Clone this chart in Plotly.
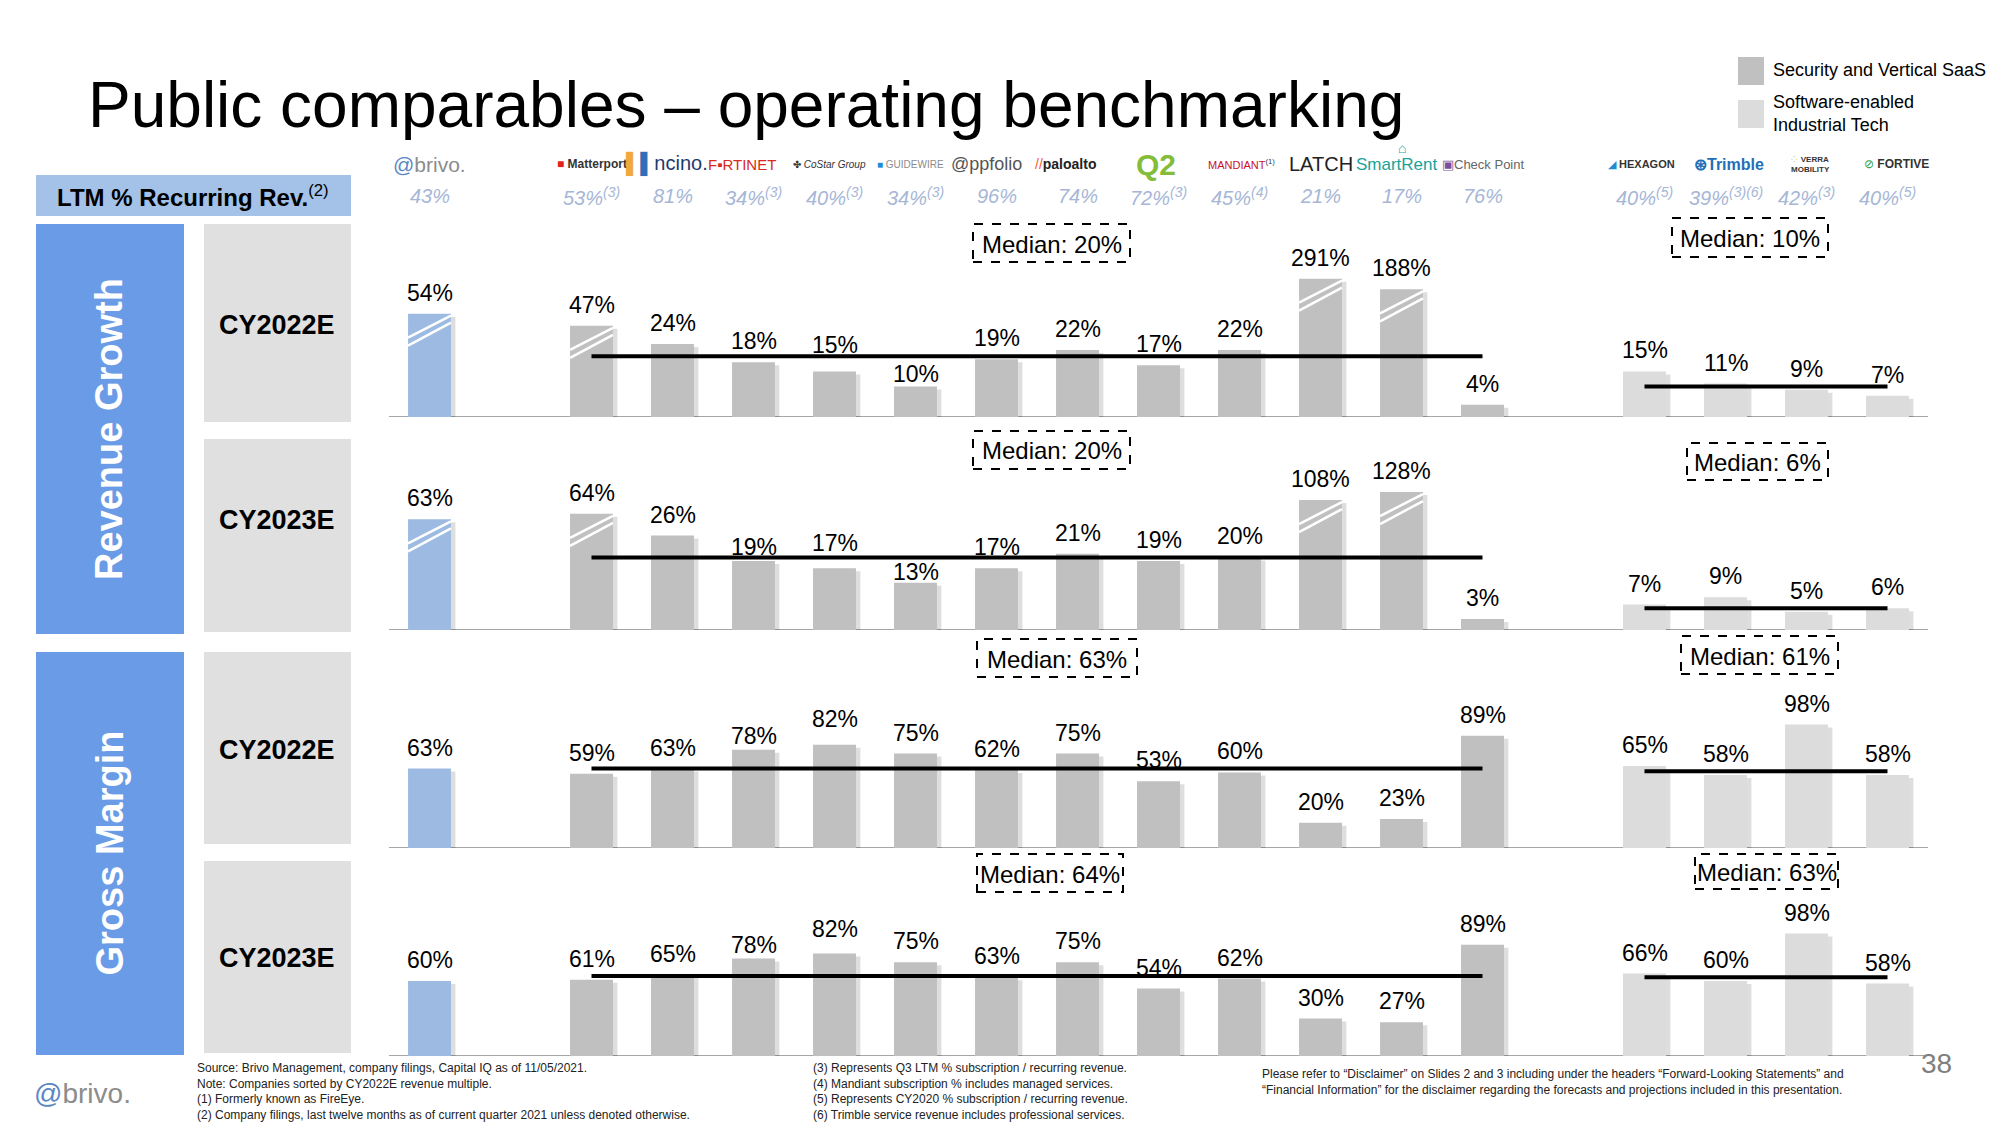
import plotly.graph_objects as go

W, H = 2000, 1125
FONT = "Liberation Sans, Arial, Helvetica, sans-serif"

# ---------------- data ----------------
brivo_name = "Brivo"
saas_names = ["Matterport", "nCino", "Fortinet", "CoStar Group", "Guidewire", "AppFolio",
              "Palo Alto Networks", "Q2", "Mandiant", "Latch", "SmartRent", "Check Point"]
ind_names = ["Hexagon", "Trimble", "Verra Mobility", "Fortive"]

ltm_brivo = 43
ltm_saas = [53, 81, 34, 40, 34, 96, 74, 72, 45, 21, 17, 76]
ltm_saas_note = ["(3)", "", "(3)", "(3)", "(3)", "", "", "(3)", "(4)", "", "", ""]
ltm_ind = [40, 39, 42, 40]
ltm_ind_note = ["(5)", "(3)(6)", "(3)", "(5)"]

rg22_brivo = 54
rg22_saas = [47, 24, 18, 15, 10, 19, 22, 17, 22, 291, 188, 4]
rg22_ind = [15, 11, 9, 7]

rg23_brivo = 63
rg23_saas = [64, 26, 19, 17, 13, 17, 21, 19, 20, 108, 128, 3]
rg23_ind = [7, 9, 5, 6]

gm22_brivo = 63
gm22_saas = [59, 63, 78, 82, 75, 62, 75, 53, 60, 20, 23, 89]
gm22_ind = [65, 58, 98, 58]

gm23_brivo = 60
gm23_saas = [61, 65, 78, 82, 75, 63, 75, 54, 62, 30, 27, 89]
gm23_ind = [66, 60, 98, 58]

median_saas = [20, 20, 63, 64]
median_ind = [10, 6, 61, 63]

# bars drawn with a broken (shortened) axis: height at which they are drawn
broken_rg22 = {"Brivo": 34, "Matterport": 30, "Latch": 45.5, "SmartRent": 42}
broken_rg23 = {"Brivo": 30.5, "Matterport": 32, "Latch": 35.8, "SmartRent": 38}

period_labels = ["CY2022E", "CY2023E", "CY2022E", "CY2023E"]
section_labels = ["Revenue Growth", "Gross Margin"]
legend_labels = ["Security and Vertical SaaS", "Software-enabled<br>Industrial Tech"]

# ---------------- geometry / style ----------------
def px(x):
    return x / W

def py(y):
    return 1 - y / H

C_BRIVO = "#9dbbe2"
C_SAAS = "#c0c0c0"
C_IND = "#dcdcdc"
C_BLUE = "#6a9be6"
C_LTMBOX = "#a4c2e8"
C_PANEL = "#e0e0e0"
C_LTMTXT = "#a6b6d6"

names = [brivo_name] + saas_names + ind_names
slots = [0] + [2 + i for i in range(len(saas_names))] + [3 + len(saas_names) + i for i in range(len(ind_names))]
colors = [C_BRIVO] + [C_SAAS] * len(saas_names) + [C_IND] * len(ind_names)
saas_slots = slots[1:1 + len(saas_names)]
ind_slots = slots[1 + len(saas_names):]

rows = [
    dict(vals=[rg22_brivo] + rg22_saas + rg22_ind, broken=broken_rg22, base=417, scale=3.04, top=222),
    dict(vals=[rg23_brivo] + rg23_saas + rg23_ind, broken=broken_rg23, base=630, scale=3.63, top=436),
    dict(vals=[gm22_brivo] + gm22_saas + gm22_ind, broken={}, base=848, scale=1.26, top=636),
    dict(vals=[gm23_brivo] + gm23_saas + gm23_ind, broken={}, base=1056, scale=1.25, top=850),
]
# label nudges (px) where the original slide moved a label
nudges = {(0, 6): -8, (0, 5): 5, (1, 4): -7, (1, 5): 4, (1, 6): -10,
          (2, 4): -7, (2, 5): 5, (3, 4): -7, (3, 5): 4}

BAR_W = 0.53
X0_PX, X1_PX = 389, 1928

fig = go.Figure()
shapes = []
annotations = []


def ptext(x, y, text, size, color="black", xanchor="center", yanchor="middle", **kw):
    d = dict(x=px(x), y=py(y), xref="paper", yref="paper", xanchor=xanchor, yanchor=yanchor,
             text=text, showarrow=False, font=dict(size=size, color=color, family=FONT))
    d.update(kw)
    annotations.append(d)


layout_axes = dict(
    xaxis=dict(domain=[px(X0_PX), px(X1_PX)], range=[-0.5, 18.5], visible=False, fixedrange=True)
)

for i, r in enumerate(rows):
    yid = "y" if i == 0 else f"y{i+1}"
    ykey = "yaxis" if i == 0 else f"yaxis{i+1}"
    rng_max = (r["base"] - r["top"]) / r["scale"]
    layout_axes[ykey] = dict(domain=[py(r["base"]), py(r["top"])], range=[0, rng_max],
                             visible=False, fixedrange=True)
    drawn = [r["broken"].get(n, v) for n, v in zip(names, r["vals"])]
    # soft shadow
    fig.add_trace(go.Bar(x=[s + 0.055 for s in slots], y=[d - 1.5 / r["scale"] for d in drawn],
                         base=[-1.5 / r["scale"]] * len(slots),
                         width=BAR_W, marker=dict(color="rgba(0,0,0,0.13)", line_width=0),
                         xaxis="x", yaxis=yid, hoverinfo="skip", showlegend=False))
    fig.add_trace(go.Bar(x=slots, y=drawn, width=BAR_W,
                         marker=dict(color=colors, line_width=0),
                         xaxis="x", yaxis=yid, showlegend=False,
                         hovertext=names, hoverinfo="text+y"))
    # baseline
    shapes.append(dict(type="line", xref="x", yref=yid, x0=-0.5, x1=18.5, y0=0, y1=0,
                       line=dict(color="#a6a6a6", width=2), layer="below"))
    # medians
    shapes.append(dict(type="line", xref="x", yref=yid, x0=saas_slots[0], x1=saas_slots[-1],
                       y0=median_saas[i], y1=median_saas[i], line=dict(color="black", width=4)))
    shapes.append(dict(type="line", xref="x", yref=yid, x0=ind_slots[0], x1=ind_slots[-1],
                       y0=median_ind[i], y1=median_ind[i], line=dict(color="black", width=4)))
    # broken marks
    for n, s, d in zip(names, slots, drawn):
        if n in r["broken"]:
            for a, b in [(24, 2), (32, 9)]:
                shapes.append(dict(type="line", xref="x", yref=yid,
                                   x0=s - BAR_W / 2, x1=s + BAR_W / 2,
                                   y0=d - a / r["scale"], y1=d - b / r["scale"],
                                   line=dict(color="white", width=2.5)))
    # value labels
    for s, d, v in zip(slots, drawn, r["vals"]):
        annotations.append(dict(x=s, y=d, xref="x", yref=yid, text=f"{v}%", showarrow=False,
                                xanchor="center", yanchor="middle", yshift=21 + nudges.get((i, s), 0),
                                font=dict(size=23, color="black", family=FONT)))

# median boxes (pixel boxes)
med_boxes = [
    (973, 1130, 224, 262, median_saas[0]), (973, 1130, 431, 469, median_saas[1]),
    (977, 1137, 639, 677, median_saas[2]), (977, 1123, 854, 892, median_saas[3]),
    (1672, 1828, 218, 257, median_ind[0]), (1687, 1828, 443, 480, median_ind[1]),
    (1681, 1838, 636, 674, median_ind[2]), (1695, 1838, 854, 889, median_ind[3]),
]
for x0, x1, y0, y1, m in med_boxes:
    shapes.append(dict(type="rect", xref="paper", yref="paper", x0=px(x0), x1=px(x1),
                       y0=py(y1), y1=py(y0), line=dict(color="black", width=2, dash="dash"),
                       fillcolor="white"))
    ptext((x0 + x1) / 2, (y0 + y1) / 2 + 1, f"Median: {m}%", 24)

# title
ptext(86, 105, "Public comparables – operating benchmarking", 64, xanchor="left")

# legend
shapes.append(dict(type="rect", xref="paper", yref="paper", x0=px(1738), x1=px(1764), y0=py(85), y1=py(57),
                   fillcolor=C_SAAS, line_width=0))
shapes.append(dict(type="rect", xref="paper", yref="paper", x0=px(1738), x1=px(1764), y0=py(128), y1=py(100),
                   fillcolor=C_IND, line_width=0))
ptext(1771, 70, legend_labels[0], 18, xanchor="left")
ptext(1771, 113, legend_labels[1], 18, xanchor="left", align="left")

# left panels
shapes.append(dict(type="rect", xref="paper", yref="paper", x0=px(36), x1=px(351), y0=py(216), y1=py(175),
                   fillcolor=C_LTMBOX, line_width=0))
ptext(193, 196, "<b>LTM % Recurring Rev.</b><sup>(2)</sup>", 24)
sec_boxes = [(224, 634), (652, 1055)]
for (t, b), lab in zip(sec_boxes, section_labels):
    shapes.append(dict(type="rect", xref="paper", yref="paper", x0=px(36), x1=px(184), y0=py(b), y1=py(t),
                       fillcolor=C_BLUE, line_width=0))
    ptext(109, (t + b) / 2, f"<b>{lab}</b>", 38, color="white", textangle=-90)
per_boxes = [(224, 422, 325), (439, 632, 520), (652, 844, 750), (861, 1053, 958)]
for (t, b, c), lab in zip(per_boxes, period_labels):
    shapes.append(dict(type="rect", xref="paper", yref="paper", x0=px(204), x1=px(351), y0=py(b), y1=py(t),
                       fillcolor=C_PANEL, line_width=0))
    ptext(277, c, f"<b>{lab}</b>", 27)

# LTM recurring revenue row
ltm_all = [ltm_brivo] + ltm_saas + ltm_ind
ltm_notes = [""] + ltm_saas_note + ltm_ind_note
for s, v, nt in zip(slots, ltm_all, ltm_notes):
    txt = f"<i>{v}%</i>" + (f"<sup><i>{nt}</i></sup>" if nt else "")
    annotations.append(dict(x=s, y=py(196), xref="x", yref="paper", showarrow=False,
                            xanchor="center", yanchor="middle",
                            text=txt, font=dict(size=20, color=C_LTMTXT, family=FONT)))

# company logos (text renditions)
logos = [
    (0, 0, "<span style='color:#5b86c5'>@</span><span style='color:#8c8c8c'>brivo.</span>", 21),
    (2, 0, "<span style='color:#e2231a'>■</span> <b><span style='color:#333333'>Matterport</span></b>", 12),
    (3, -6, "<span style='color:#f2a93b'>▌</span><span style='color:#2e6fb7'>▌</span><span style='color:#1f3a6e'>ncino.</span>", 20),
    (4, -12, "<span style='color:#da291c'>F▪RTINET</span>", 15),
    (5, -5, "<span style='color:#333333'>✤ <i>CoStar Group</i></span>", 10),
    (6, -5, "<span style='color:#1f8ad8'>■</span> <span style='color:#8c8c8c'>GUIDEWIRE</span>", 10),
    (7, -10, "<span style='color:#555555'>@ppfolio</span>", 18),
    (8, -12, "<span style='color:#fa582d'>//</span><b><span style='color:#222222'>paloalto</span></b>", 14),
    (9, -3, "<b><span style='color:#84bd3a'>Q2</span></b>", 30),
    (10, 2, "<span style='color:#c8102e'>MANDIANT</span><sup>(1)</sup>", 11),
    (11, 0, "<span style='color:#222222'>LATCH</span>", 20),
    (12, -5, "<span style='color:#1aa39a'>SmartRent</span>", 17),
    (13, 0, "<span style='color:#7b4fa0'>▣</span><span style='color:#666666'>Check Point</span>", 13),
    (15, -3, "<span style='color:#1d8fd1'>◢</span> <b><span style='color:#333333'>HEXAGON</span></b>", 11),
    (16, 3, "<b><span style='color:#1e6fb8'>⊛Trimble</span></b>", 16),
    (17, 4, "<span style='color:#9bc53d'>⁘</span> <b><span style='color:#333333'>VERRA<br>MOBILITY</span></b>", 8),
    (18, 9, "<span style='color:#2e9e44'>⊘</span> <b><span style='color:#333333'>FORTIVE</span></b>", 12),
]
for s, dx, html, sz in logos:
    annotations.append(dict(x=s, y=py(164), xref="x", yref="paper", showarrow=False,
                            xanchor="center", yanchor="middle",
                            xshift=dx, text=html, font=dict(size=sz, family=FONT)))
annotations.append(dict(x=12, y=py(148), xref="x", yref="paper", showarrow=False,
                        xanchor="center", yanchor="middle",
                        text="<span style='color:#1aa39a'>⌂</span>", font=dict(size=14, family=FONT)))

# footnotes
fn1 = ("Source: Brivo Management, company filings, Capital IQ as of 11/05/2021.<br>"
       "Note: Companies sorted by CY2022E revenue multiple.<br>"
       "(1) Formerly known as FireEye.<br>"
       "(2) Company filings, last twelve months as of current quarter 2021 unless denoted otherwise.")
fn2 = ("(3) Represents Q3 LTM % subscription / recurring revenue.<br>"
       "(4) Mandiant subscription % includes managed services.<br>"
       "(5) Represents CY2020 % subscription / recurring revenue.<br>"
       "(6) Trimble service revenue includes professional services.")
fn3 = ("Please refer to “Disclaimer” on Slides 2 and 3 including under the headers “Forward-Looking Statements” and<br>"
       "“Financial Information” for the disclaimer regarding the forecasts and projections included in this presentation.")
for x, y, t in [(195, 1059, fn1), (811, 1059, fn2), (1260, 1065, fn3)]:
    ptext(x, y, t, 12, color="#222222", xanchor="left", yanchor="top", align="left")
ptext(1936, 1063, "38", 28, color="#7f7f7f")
ptext(82, 1093, "<span style='color:#5b86c5'>@</span><span style='color:#8c8c8c'>brivo.</span>", 28)

fig.update_layout(
    width=W, height=H, margin=dict(l=0, r=0, t=0, b=0),
    paper_bgcolor="white", plot_bgcolor="white",
    barmode="overlay", showlegend=False,
    font=dict(family=FONT),
    shapes=shapes, annotations=annotations,
    **layout_axes,
)

fig.write_html("out.html",
               config={"displayModeBar": False},
               post_script="document.body.style.margin='0px';document.body.style.padding='0px';"
                           "document.documentElement.style.overflow='hidden';document.body.style.overflow='hidden';")
